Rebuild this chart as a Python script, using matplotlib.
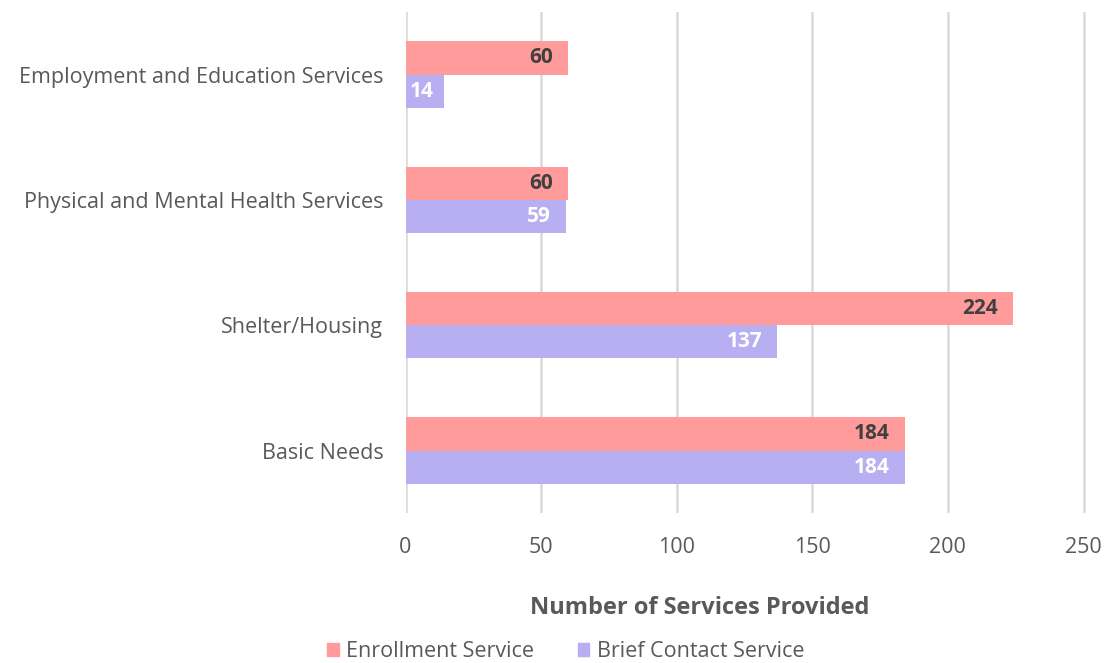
import matplotlib
matplotlib.use("Agg")
import matplotlib.pyplot as plt
import numpy as np

categories = ["Basic Needs", "Shelter/Housing",
              "Physical and Mental Health Services",
              "Employment and Education Services"]
enrollment = [184, 224, 60, 60]
brief = [184, 137, 59, 14]

C_ENROLL = "#FF9B9B"
C_BRIEF = "#B8AEF2"
TXT = "#595959"

plt.rcParams["font.family"] = ["Open Sans", "DejaVu Sans"]

fig = plt.figure(figsize=(11.05, 6.63), dpi=100)
ax = fig.add_axes([0.367, 0.226, 0.616, 0.756])

y = np.arange(len(categories))
h = 0.265
b1 = ax.barh(y + h / 2, enrollment, height=h, color=C_ENROLL, zorder=3)
b2 = ax.barh(y - h / 2, brief, height=h, color=C_BRIEF, zorder=3)

for rect, v in zip(b1, enrollment):
    ax.text(v - 5.5, rect.get_y() + rect.get_height() / 2, str(v), ha="right",
            va="center", fontsize=15, fontweight="bold", color="#404040", zorder=4)
for rect, v in zip(b2, brief):
    ax.text(v - 5.5 if v > 20 else 1.5, rect.get_y() + rect.get_height() / 2, str(v),
            ha="right" if v > 20 else "left",
            va="center", fontsize=15, fontweight="bold", color="white", zorder=4)

ax.set_xlim(0, 251)
ax.set_ylim(-0.5, 3.5)
ax.set_xticks(range(0, 251, 50))
ax.set_yticks(y)
ax.set_yticklabels(categories)
ax.tick_params(axis="both", length=0, labelsize=15.5, colors=TXT)
ax.tick_params(axis="y", pad=16)
ax.tick_params(axis="x", pad=17)
ax.grid(axis="x", color="#D9D9D9", lw=1.8, zorder=0)
for s in ax.spines.values():
    s.set_visible(False)

ax.set_xlabel("Number of Services Provided", fontsize=17, fontweight="bold",
              color=TXT)
ax.xaxis.set_label_coords(0.432, -0.165)

handles = [plt.Rectangle((0, 0), 1, 1, color=C_ENROLL),
           plt.Rectangle((0, 0), 1, 1, color=C_BRIEF)]
fig.legend(handles, ["Enrollment Service", "Brief Contact Service"],
           loc="center", bbox_to_anchor=(0.512, 0.017), ncol=2, frameon=False,
           fontsize=15.5, labelcolor=TXT, handlelength=0.55, handleheight=0.55,
           handletextpad=0.35, columnspacing=2.0)

fig.savefig("out.png", dpi=100)
